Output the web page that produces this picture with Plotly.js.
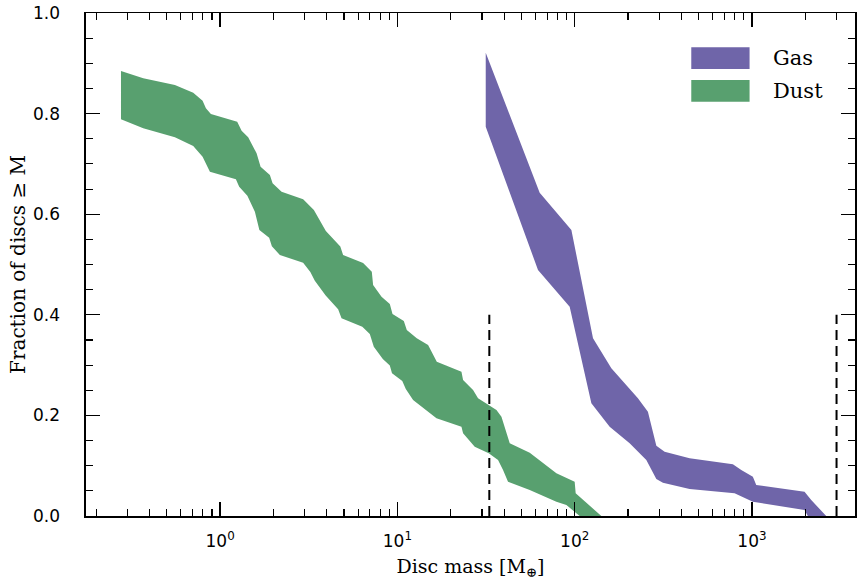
<!DOCTYPE html>
<html>
<head>
<meta charset="utf-8">
<script src="https://cdn.plot.ly/plotly-3.0.1.min.js"></script>
<style>html,body{margin:0;padding:0;background:#fff;}#chart{width:857px;height:585px;}</style>
</head>
<body>
<div id="chart"></div>
<script>
// ---- Data ----
// Dust band: upper and lower boundary of fraction of discs >= M
var dustUpperMass = [0.276, 0.3685, 0.556, 0.7054, 0.7966, 0.8317, 0.8873, 1.2488, 1.3221, 1.44, 1.6061, 1.6915, 1.909, 1.977, 2.222, 2.94, 3.38, 3.949, 4.765, 4.941, 6.408, 7.173, 7.295, 8.138, 9.063, 9.386, 10.87, 11.30, 12.86, 14.90, 16.68, 22.98, 23.47, 26.72, 28.51, 32.75, 36.20, 38.63, 43.02, 55.78, 78.87, 100.0, 101.3, 141.4];
var dustUpperFrac = [0.8847, 0.8702, 0.8569, 0.8416, 0.8256, 0.8105, 0.7992, 0.7839, 0.7660, 0.7529, 0.7211, 0.6944, 0.6779, 0.6614, 0.6447, 0.6296, 0.6083, 0.5666, 0.5358, 0.5189, 0.5030, 0.4857, 0.4592, 0.4360, 0.4215, 0.4016, 0.3877, 0.3698, 0.3533, 0.3400, 0.3068, 0.2869, 0.2704, 0.2505, 0.2340, 0.2207, 0.2107, 0.1974, 0.1445, 0.1258, 0.0849, 0.0682, 0.0451, 0.0];
var dustLowerMass = [0.276, 0.3685, 0.556, 0.7054, 0.7966, 0.876, 1.2276, 1.2815, 1.4251, 1.571, 1.6654, 1.8915, 1.959, 2.1733, 2.94, 3.2285, 3.422, 3.9394, 4.6323, 4.8407, 6.3404, 6.9887, 7.3621, 8.2757, 9.063, 9.3255, 10.656, 11.153, 12.262, 16.615, 22.98, 23.47, 27.30, 32.75, 36.96, 39.44, 42.07, 55.78, 78.87, 89.82, 106.7];
var dustLowerFrac = [0.7887, 0.7708, 0.7529, 0.7356, 0.7143, 0.6845, 0.6694, 0.6547, 0.6366, 0.6050, 0.5686, 0.5531, 0.5362, 0.5189, 0.5034, 0.4851, 0.4678, 0.4384, 0.4109, 0.3930, 0.3763, 0.3618, 0.3366, 0.3121, 0.2992, 0.2837, 0.2684, 0.2525, 0.2306, 0.1942, 0.1775, 0.1644, 0.1378, 0.1247, 0.1113, 0.0915, 0.0682, 0.0517, 0.0284, 0.0219, 0.0];

// Gas band
var gasUpperMass = [31.5, 63.48, 95.81, 126.9, 161.0, 227.4, 258.9, 288.8, 321.6, 444.9, 780.4, 870.5, 1011.8, 1057.3, 1979.4, 2159.2, 2623.2];
var gasUpperFrac = [0.9211, 0.6427, 0.5686, 0.3533, 0.2936, 0.2340, 0.2074, 0.1398, 0.1278, 0.1147, 0.1028, 0.0915, 0.0781, 0.0616, 0.0483, 0.0318, 0.0];
var gasLowerMass = [31.5, 62.10, 93.71, 124.2, 157.5, 204.2, 253.6, 288.8, 314.6, 444.9, 797.7, 1011.8, 1979.4, 2066.0];
var gasLowerFrac = [0.7740, 0.4891, 0.4161, 0.2241, 0.1775, 0.1445, 0.1113, 0.0736, 0.0662, 0.0537, 0.0451, 0.0284, 0.0119, 0.0];

// Vertical dashed limits
var limitMass = [33, 3000];
var limitTop = 0.4;

var seriesNames = ['Gas', 'Dust'];
var gasColor = '#6f65a9';
var dustColor = '#58a06f';

var xTickVals = [1, 10, 100, 1000];
var xTickText = ['10<sup>0</sup>', '10<sup>1</sup>', '10<sup>2</sup>', '10<sup>3</sup>'];

// ---- Build ----
function band(upX, upY, loX, loY) {
  return {
    x: upX.concat(loX.slice().reverse()),
    y: upY.concat(loY.slice().reverse())
  };
}
var db = band(dustUpperMass, dustUpperFrac, dustLowerMass, dustLowerFrac);
var gb = band(gasUpperMass, gasUpperFrac, gasLowerMass, gasLowerFrac);

var traces = [
  {x: db.x, y: db.y, type: 'scatter', mode: 'lines', fill: 'toself', fillcolor: dustColor,
   line: {width: 0, color: dustColor}, name: seriesNames[1], showlegend: false, hoverinfo: 'skip'},
  {x: gb.x, y: gb.y, type: 'scatter', mode: 'lines', fill: 'toself', fillcolor: gasColor,
   line: {width: 0, color: gasColor}, name: seriesNames[0], showlegend: false, hoverinfo: 'skip'}
];
limitMass.forEach(function (m) {
  traces.push({x: [m, m], y: [0, limitTop], type: 'scatter', mode: 'lines', yaxis: 'y2',
    line: {color: '#000', width: 2, dash: '10px,6px'}, showlegend: false, hoverinfo: 'skip'});
});

var minorX = [];
for (var e = -1; e <= 3; e++) {
  for (var d = 2; d <= 9; d++) minorX.push(d * Math.pow(10, e));
}

var serif = 'DejaVu Serif, serif';
var sans = 'DejaVu Sans, sans-serif';
var leftMargin = 60, plotLeft = 86, rightMargin = 1.5;
var xStart = (plotLeft - leftMargin) / (857 - leftMargin - rightMargin);

var layout = {
  width: 857, height: 585,
  margin: {l: leftMargin, r: rightMargin, t: 13, b: 69},
  paper_bgcolor: '#fff', plot_bgcolor: '#fff',
  showlegend: false,
  xaxis: {
    type: 'log', range: [-0.7565, 3.5812], domain: [xStart, 1],
    tickmode: 'array', tickvals: xTickVals, ticktext: xTickText,
    ticks: 'inside', ticklen: 14, tickwidth: 1.3, tickcolor: '#000',
    showline: true, linecolor: '#000', linewidth: 1.5, mirror: 'ticks',
    showgrid: false, zeroline: false, ticklabelstandoff: 9,
    minor: {tickmode: 'array', tickvals: minorX, ticks: 'inside', ticklen: 7, tickwidth: 1.1, tickcolor: '#000', showgrid: false},
    tickfont: {family: sans, size: 17, color: '#000'},
    title: {text: 'Disc mass [M<sub>⊕</sub>]', font: {family: serif, size: 19, color: '#000'}, standoff: 10}
  },
  yaxis: {
    range: [0, 1], tickmode: 'linear', tick0: 0, dtick: 0.2,
    ticks: 'inside', ticklen: 14, tickwidth: 1.3, tickcolor: '#000',
    showline: true, linecolor: '#000', linewidth: 1.5, mirror: 'ticks',
    showgrid: false, zeroline: false, showticklabels: false,
    minor: {dtick: 0.05, ticks: 'inside', ticklen: 7, tickwidth: 1.1, tickcolor: '#000', showgrid: false}
  },
  yaxis2: {
    range: [0, 1], overlaying: 'y', anchor: 'free', position: 0, side: 'left',
    tickmode: 'linear', tick0: 0, dtick: 0.2, tickformat: '.1f',
    ticks: '', showline: false, showgrid: false, zeroline: false,
    tickfont: {family: sans, size: 17, color: '#000'},
    title: {text: 'Fraction of discs ≥ M', font: {family: serif, size: 20, color: '#000'}, standoff: 0}
  },
  shapes: [
    {type: 'rect', xref: 'x domain', yref: 'y domain', x0: 0.7871, x1: 0.8629, y0: 0.8887, y1: 0.9318, fillcolor: gasColor, line: {width: 0}},
    {type: 'rect', xref: 'x domain', yref: 'y domain', x0: 0.7871, x1: 0.8629, y0: 0.8237, y1: 0.8668, fillcolor: dustColor, line: {width: 0}}
  ],
  annotations: [
    {xref: 'x domain', yref: 'y domain', x: 0.891, y: 0.9105, xanchor: 'left', yanchor: 'middle', text: seriesNames[0], showarrow: false, font: {family: serif, size: 21, color: '#000'}},
    {xref: 'x domain', yref: 'y domain', x: 0.891, y: 0.8445, xanchor: 'left', yanchor: 'middle', text: seriesNames[1], showarrow: false, font: {family: serif, size: 21, color: '#000'}}
  ]
};

Plotly.newPlot('chart', traces, layout, {displayModeBar: false, staticPlot: true});
</script>
</body>
</html>
